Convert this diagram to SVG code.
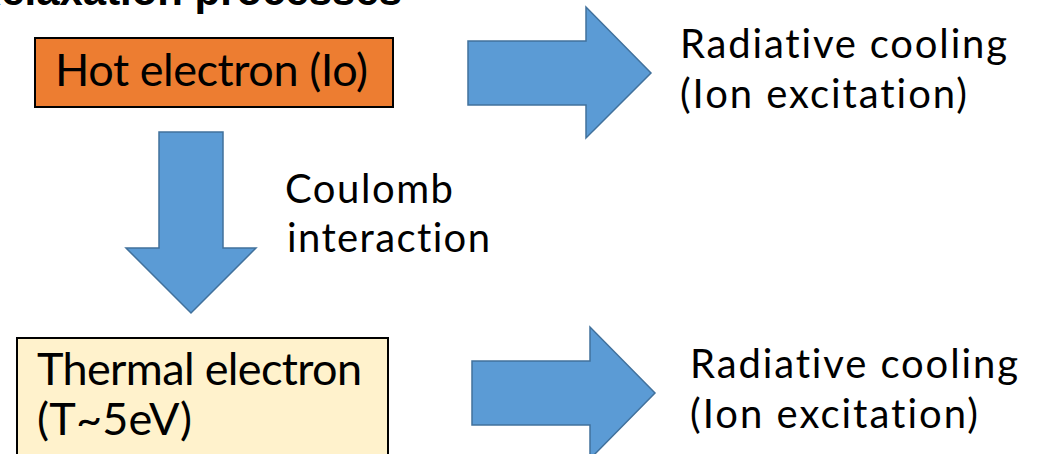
<svg xmlns="http://www.w3.org/2000/svg" width="1045" height="454" viewBox="0 0 1045 454">
<style>
.t{font-family:Lato,"Open Sans",sans-serif;fill:#000;font-variant-ligatures:none;font-feature-settings:"liga" 0,"clig" 0,"dlig" 0}
.big{font-size:45px}
.mid{font-size:40px}
.title{font-family:"Liberation Sans",Arial,sans-serif;font-weight:bold;font-size:42px;fill:#000}
.arrow{fill:#5B9BD5;stroke:#41719C;stroke-width:1.5}
.box{stroke:#000;stroke-width:2}
</style>
<rect width="1045" height="454" fill="#fff"/>
<text class="title" x="-29" y="5" textLength="431" lengthAdjust="spacingAndGlyphs">Relaxation processes</text>
<g id="hot">
<rect class="box" x="35" y="38" width="358" height="69" fill="#ED7D31"/>
<text class="t big" x="55" y="86" textLength="313" lengthAdjust="spacing">Hot electron (Io)</text>
</g>
<g id="thermal">
<rect class="box" x="17" y="338" width="371" height="130" fill="#FFF2CC"/>
<text class="t big" x="37" y="385" textLength="325" lengthAdjust="spacing">Thermal electron</text>
<text class="t big" x="37" y="435" textLength="155" lengthAdjust="spacing">(T~5eV)</text>
</g>
<g id="rad1">
<text class="t mid" x="680" y="58" textLength="327" lengthAdjust="spacing">Radiative cooling</text>
<text class="t mid" x="680" y="108" textLength="287" lengthAdjust="spacing">(Ion excitation)</text>
</g>
<g id="rad2">
<text class="t mid" x="690" y="378" textLength="328" lengthAdjust="spacing">Radiative cooling</text>
<text class="t mid" x="690" y="428" textLength="288" lengthAdjust="spacing">(Ion excitation)</text>
</g>
<g id="coulomb">
<text class="t mid" x="285" y="203" textLength="168" lengthAdjust="spacing">Coulomb</text>
<text class="t mid" x="287" y="252" textLength="203" lengthAdjust="spacing">interaction</text>
</g>
<g id="connectors">
<polygon class="arrow" points="468,41 586,41 586,7 651,73 586,138 586,105 468,105"/>
<polygon class="arrow" points="159,132 223,132 223,248 256,248 191,313 126,248 159,248"/>
<polygon class="arrow" points="472,361 590,361 590,327 655,393 590,459 590,425 472,425"/>
</g>
</svg>
